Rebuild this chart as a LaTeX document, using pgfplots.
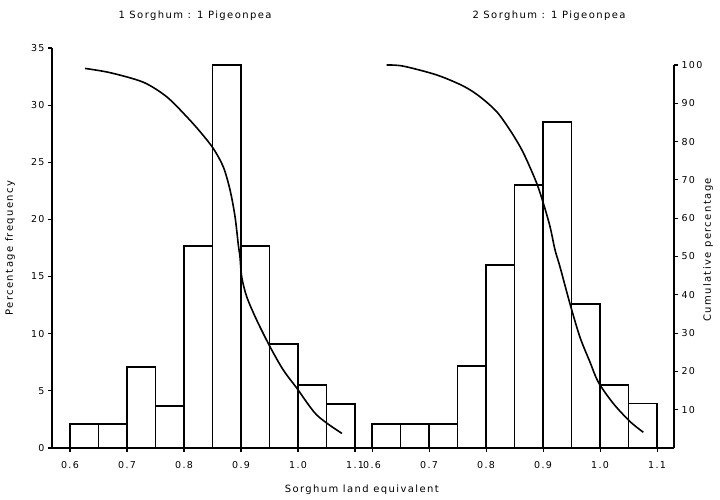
\documentclass[border=0pt]{standalone}
\usepackage{fontspec}
\setmainfont{DejaVu Sans}[LetterSpace=14]
\usepackage{pgfplots}
\pgfplotsset{compat=1.18}

% left panel 0.6-1.1 as is, right panel shifted by +0.53
\pgfplotsset{
  lines/.style={line width=1.6pt},
  every tick label/.append style={font=\fontsize{9.5}{11}\selectfont},
}

\begin{document}
\begin{tikzpicture}
\useasboundingbox (0pt,0pt) rectangle (720pt,500pt);
\begin{axis}[
  at={(52pt,52pt)}, anchor=south west, scale only axis,
  width=622pt, height=400pt,
  xmin=0.5684, xmax=1.6596, ymin=0, ymax=35,
  axis x line=bottom, axis y line=left,
  axis line style={-, line width=1.6pt},
  tick style={black, line width=1.1pt}, tick align=outside,
  major tick length=4pt,
  xtick={0.6,0.7,0.8,0.9,1.0,1.1,1.13,1.23,1.33,1.43,1.53,1.63},
  xticklabels={0.6,0.7,0.8,0.9,1.0,1.1,0.6,0.7,0.8,0.9,1.0,1.1},
  xticklabel style={yshift=-6pt},
  ytick={0,5,...,35},
  /pgf/number format/assume math mode=true,
  xlabel={Sorghum land equivalent},
  every axis x label/.style={at={(axis description cs:0.498,-0.105)}, anchor=center, font=\fontsize{10}{12}\selectfont},
  ylabel={Percentage frequency},
  every axis y label/.style={at={(axis description cs:-0.0675,0.5)}, anchor=center, rotate=90, font=\fontsize{10}{12}\selectfont},
  clip=false,
]
% 1 Sorghum : 1 Pigeonpea
\addplot[ybar interval, fill=white, draw=black, lines] coordinates {
  (0.60,2.1) (0.65,2.1) (0.70,7.1) (0.75,3.7) (0.80,17.7) (0.85,33.5)
  (0.90,17.7) (0.95,9.1) (1.00,5.5) (1.05,3.85) (1.10,3.85)};
% 2 Sorghum : 1 Pigeonpea
\addplot[ybar interval, fill=white, draw=black, lines] coordinates {
  (1.13,2.1) (1.18,2.1) (1.23,2.1) (1.28,7.2) (1.33,16.0) (1.38,23.0)
  (1.43,28.5) (1.48,12.6) (1.53,5.5) (1.58,3.9) (1.63,3.9)};
\end{axis}

\begin{axis}[
  at={(52pt,52pt)}, anchor=south west, scale only axis,
  width=622pt, height=383pt,
  xmin=0.5684, xmax=1.6596, ymin=0, ymax=100,
  axis x line=none, axis y line=right,
  axis line style={-, line width=1.6pt},
  tick style={black, line width=1.1pt}, tick align=outside,
  major tick length=4pt,
  ytick={10,20,...,100},
  /pgf/number format/assume math mode=true,
  ylabel={Cumulative percentage},
  every axis y label/.style={at={(axis description cs:1.0547,0.517)}, anchor=center, rotate=90, font=\fontsize{10}{12}\selectfont},
]
\addplot[smooth, lines] coordinates {
  (0.6263,99.1) (0.6702,98.0) (0.7286,95.5) (0.7696,91.7) (0.8047,86.5)
  (0.8281,82.6) (0.8514,78.2) (0.8689,73.4) (0.8807,67.4) (0.8895,60.4)
  (0.8953,53.0) (0.8982,49.9) (0.9012,44.7) (0.9100,39.5) (0.9275,33.4)
  (0.9510,26.4) (0.9740,20.4) (0.9980,15.6) (1.0330,8.6) (1.0770,3.8)};
\addplot[smooth, lines] coordinates {
  (1.1556,100.0) (1.1847,99.7) (1.2433,97.4) (1.2900,94.5) (1.3193,91.7)
  (1.3486,87.8) (1.3719,83.0) (1.3895,78.7) (1.4012,75.2) (1.4188,69.1)
  (1.4304,63.9) (1.4421,57.8) (1.4509,51.7) (1.4596,47.3) (1.4772,37.6)
  (1.4947,28.9) (1.5123,22.4) (1.5268,17.2) (1.5532,11.6) (1.5825,6.9)
  (1.6058,4.1)};
\end{axis}

\node[font=\fontsize{10}{12}\selectfont] at (195pt,484pt) {1 Sorghum : 1 Pigeonpea};
\node[font=\fontsize{10}{12}\selectfont] at (549pt,484pt) {2 Sorghum : 1 Pigeonpea};
\end{tikzpicture}
\end{document}
